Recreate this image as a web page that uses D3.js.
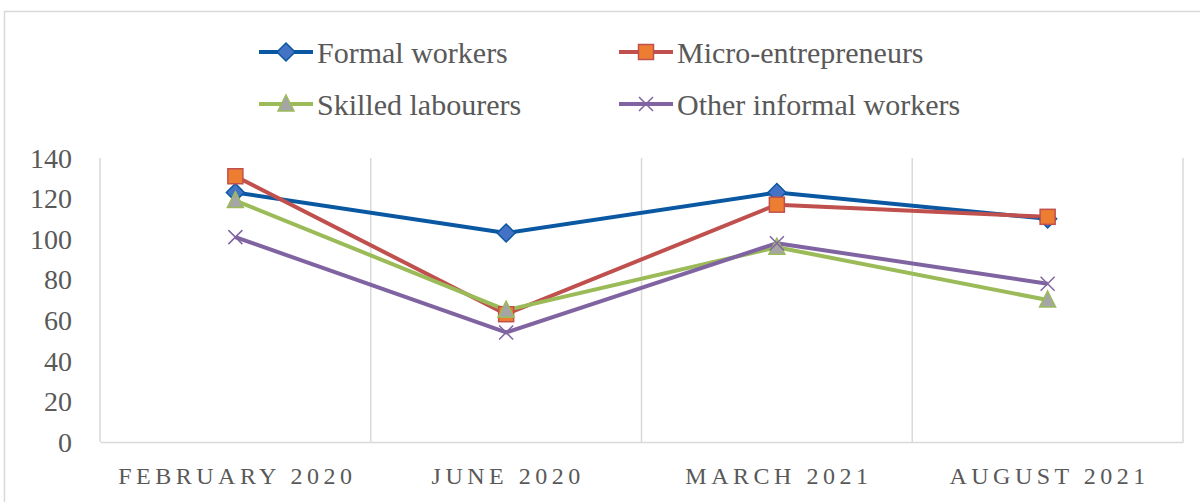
<!DOCTYPE html>
<html><head><meta charset="utf-8">
<script src="https://cdn.jsdelivr.net/npm/d3@7"></script>
<style>body{margin:0;background:#fff}svg{display:block}</style>
</head><body>
<script>
const categories = ["FEBRUARY 2020", "JUNE 2020", "MARCH 2021", "AUGUST 2021"];
const formalWorkers = [123, 103, 123, 110];
const microEntrepreneurs = [131, 63, 117, 111];
const skilledLabourers = [119, 65, 96, 70];
const otherInformal = [101, 54, 98, 78];
const yTicks = [0, 20, 40, 60, 80, 100, 120, 140];
const seriesNames = ["Formal workers", "Micro-entrepreneurs", "Skilled labourers", "Other informal workers"];

const series = [
  {name: seriesNames[0], values: formalWorkers, line: "#0a58a2", fill: "#4472c4", stroke: "#0a58a2", marker: "diamond"},
  {name: seriesNames[1], values: microEntrepreneurs, line: "#c0504d", fill: "#ed7d31", stroke: "#c0504d", marker: "square"},
  {name: seriesNames[2], values: skilledLabourers, line: "#9bbb59", fill: "#a5a5a5", stroke: "#9bbb59", marker: "triangle"},
  {name: seriesNames[3], values: otherInformal, line: "#8064a2", fill: "none", stroke: "#8064a2", marker: "x"}
];

const W = 1200, H = 502;
const font = "'Liberation Serif','DejaVu Serif',serif";
const svg = d3.select("body").append("svg").attr("width", W).attr("height", H);

// outer border
svg.append("path").attr("d", "M4.5,502 V11.5 H1200").attr("fill", "none").attr("stroke", "#d9d9d9").attr("stroke-width", 1.5);

const plot = {left: 100, right: 1183, top: 158, bottom: 442};
const x = d3.scaleBand().domain(categories).range([plot.left, plot.right]);
const y = d3.scaleLinear().domain([0, 140]).range([plot.bottom, plot.top]);

// vertical gridlines at category boundaries
const g = svg.append("g");
categories.forEach((c, i) => {
  const xx = x(c) + x.bandwidth();
  g.append("line").attr("x1", xx).attr("x2", xx).attr("y1", plot.top).attr("y2", plot.bottom)
    .attr("stroke", "#d9d9d9").attr("stroke-width", 1.5);
});
// left axis line
g.append("line").attr("x1", plot.left).attr("x2", plot.left).attr("y1", plot.top).attr("y2", plot.bottom)
  .attr("stroke", "#d9d9d9").attr("stroke-width", 1.5);

// y axis labels
const yAxis = d3.axisLeft(y).tickValues(yTicks).tickSize(0).tickPadding(0);
const ya = svg.append("g").attr("transform", `translate(72,0)`).call(yAxis);
ya.select(".domain").remove();
ya.selectAll("text").attr("font-family", font).attr("font-size", 28).attr("fill", "#595959").attr("dy", "0.33em");

// x axis
const xAxis = d3.axisBottom(x).tickSize(0).tickPadding(0);
const xa = svg.append("g").attr("transform", `translate(0,${plot.bottom})`).call(xAxis);
xa.select(".domain").attr("stroke", "#d9d9d9").attr("stroke-width", 1.5);
xa.selectAll("text").attr("font-family", font).attr("font-size", 24).attr("fill", "#595959")
  .attr("letter-spacing", "4.5px").attr("x", 2).attr("y", 34).attr("dy", "0.35em");

function drawMarker(sel, s, cx, cy) {
  if (s.marker === "diamond") {
    sel.append("path").attr("d", `M${cx},${cy-9} L${cx+9},${cy} L${cx},${cy+9} L${cx-9},${cy} Z`)
      .attr("fill", s.fill).attr("stroke", s.stroke).attr("stroke-width", 1.5);
  } else if (s.marker === "square") {
    sel.append("rect").attr("x", cx-7.5).attr("y", cy-7.5).attr("width", 15).attr("height", 15)
      .attr("fill", s.fill).attr("stroke", s.stroke).attr("stroke-width", 1.5);
  } else if (s.marker === "triangle") {
    sel.append("path").attr("d", `M${cx},${cy-9} L${cx+8},${cy+7} L${cx-8},${cy+7} Z`)
      .attr("fill", s.fill).attr("stroke", s.stroke).attr("stroke-width", 1.5);
  } else {
    sel.append("path").attr("d", `M${cx-7},${cy-7} L${cx+7},${cy+7} M${cx-7},${cy+7} L${cx+7},${cy-7}`)
      .attr("fill", "none").attr("stroke", s.stroke).attr("stroke-width", 1.5);
  }
}

const line = d3.line().x((d, i) => x(categories[i]) + x.bandwidth() / 2).y(d => y(d));
series.forEach(s => {
  svg.append("path").datum(s.values).attr("d", line).attr("fill", "none")
    .attr("stroke", s.line).attr("stroke-width", 4).attr("stroke-linejoin", "round");
});
series.forEach(s => {
  const mg = svg.append("g");
  s.values.forEach((v, i) => drawMarker(mg, s, x(categories[i]) + x.bandwidth() / 2, y(v)));
});

// legend
const legPos = [[259, 52], [619, 52], [259, 104], [619, 104]];
series.forEach((s, i) => {
  const [lx, ly] = legPos[i];
  const lg = svg.append("g");
  lg.append("line").attr("x1", lx).attr("x2", lx + 54).attr("y1", ly).attr("y2", ly)
    .attr("stroke", s.line).attr("stroke-width", 4);
  drawMarker(lg, s, lx + 27, ly);
  lg.append("text").attr("x", lx + 58).attr("y", ly).attr("dy", "0.35em")
    .attr("font-family", font).attr("font-size", 30).attr("fill", "#595959").text(s.name);
});
</script>
</body></html>
